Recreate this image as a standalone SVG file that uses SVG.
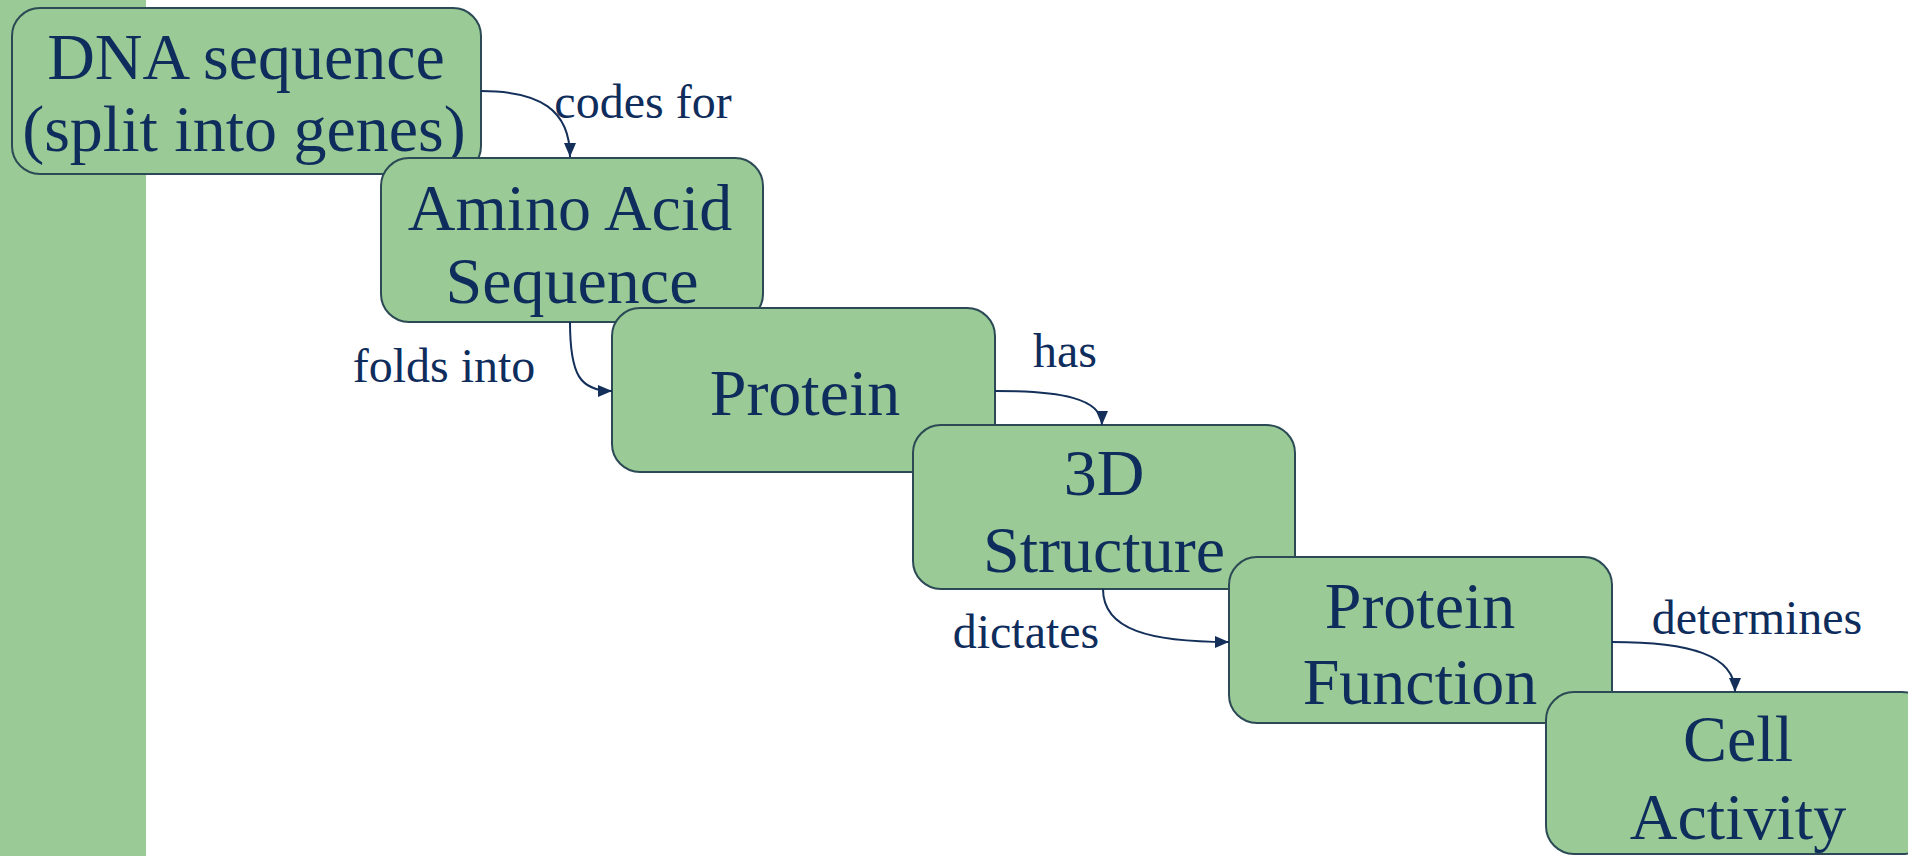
<svg xmlns="http://www.w3.org/2000/svg" width="1908" height="856" viewBox="0 0 1908 856">
<style>
.box{fill:#9aca95;stroke:#2b4a55;stroke-width:2}
.t{font-family:"Liberation Serif","Times New Roman",serif;font-size:66px;fill:#0f2d5c;text-anchor:middle}
.lbl{font-family:"Liberation Serif","Times New Roman",serif;font-size:48px;fill:#0f2d5c;text-anchor:middle}
.con{fill:none;stroke:#14305a;stroke-width:2}
</style>
<defs>
<marker id="arr" viewBox="0 0 14 12" refX="14" refY="6" markerWidth="15" markerHeight="12" orient="auto" markerUnits="userSpaceOnUse">
<path d="M0,0 L14,6 L0,12 z" fill="#14305a"/>
</marker>
</defs>
<rect x="0" y="0" width="1908" height="856" fill="#ffffff"/>
<rect id="sidebar" x="0" y="0" width="146" height="856" fill="#9aca95"/>
<g id="node-dna">
<rect class="box" x="12" y="8" width="469" height="166" rx="28"/>
<text class="t" x="246" y="79">DNA sequence</text>
<text class="t" x="244" y="151">(split into genes)</text>
</g>
<g id="node-amino">
<rect class="box" x="381" y="158" width="382" height="164" rx="28"/>
<text class="t" x="570" y="230">Amino Acid</text>
<text class="t" x="572" y="303">Sequence</text>
</g>
<g id="node-protein">
<rect class="box" x="612" y="308" width="383" height="164" rx="28"/>
<text class="t" x="805" y="415">Protein</text>
</g>
<g id="node-structure">
<rect class="box" x="913" y="425" width="382" height="164" rx="28"/>
<text class="t" x="1104" y="495">3D</text>
<text class="t" x="1104" y="572">Structure</text>
</g>
<g id="node-function">
<rect class="box" x="1229" y="557" width="383" height="166" rx="28"/>
<text class="t" x="1420" y="628">Protein</text>
<text class="t" x="1420" y="704">Function</text>
</g>
<g id="node-cell">
<rect class="box" x="1546" y="692" width="384" height="162" rx="28"/>
<text class="t" x="1738" y="761">Cell</text>
<text class="t" x="1738" y="839">Activity</text>
</g>
<g id="connectors">
<path class="con" d="M481,91 C540,91 570,110 570,157" marker-end="url(#arr)"/>
<text class="lbl" x="643" y="118">codes for</text>
<path class="con" d="M570,322 C570,375 580,391 612,391" marker-end="url(#arr)"/>
<text class="lbl" x="444" y="382">folds into</text>
<path class="con" d="M995,391 C1060,391 1102,398 1102,425" marker-end="url(#arr)"/>
<text class="lbl" x="1065" y="367">has</text>
<path class="con" d="M1103,589 C1103,630 1150,642 1229,642" marker-end="url(#arr)"/>
<text class="lbl" x="1026" y="648">dictates</text>
<path class="con" d="M1612,642 C1690,642 1735,655 1735,692" marker-end="url(#arr)"/>
<text class="lbl" x="1757" y="634">determines</text>
</g>
</svg>
